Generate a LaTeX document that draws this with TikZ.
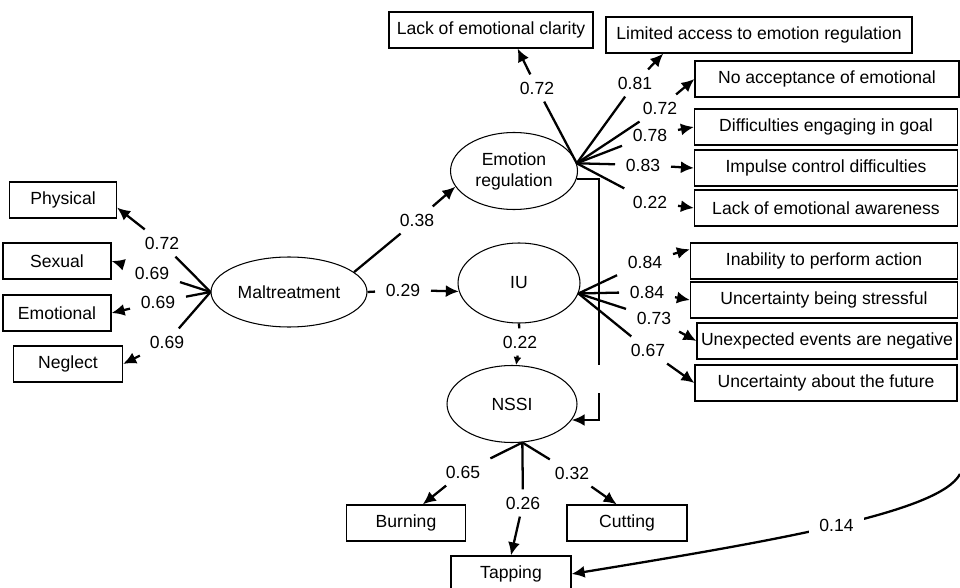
\documentclass[tikz,border=0pt]{standalone}
\usepackage{fontspec}
\setmainfont{Liberation Sans}
\usepackage{tikz}
\usetikzlibrary{shapes.geometric, arrows.meta}

\begin{document}
\begin{tikzpicture}[
    x=0.02cm, y=-0.02cm,
    ind/.style={rectangle, draw, line width=0.7pt, minimum height=0.72cm, inner sep=0pt},
    latent/.style={ellipse, draw, line width=0.6pt, inner sep=0pt, align=center},
    coef/.style={inner xsep=6pt, inner ysep=4pt},
    gapfill/.style={fill=white, minimum height=0.56cm, minimum width=0.15cm, inner sep=0pt},
    link/.style={line width=1.3pt},
    arrow/.style={-{Latex[length=2.6mm, width=2.4mm]}, line width=1.3pt}
]
    \useasboundingbox (0,0) rectangle (960,588);

    \node[latent, minimum width=3.12cm, minimum height=1.4cm] (mal) at (289,292) {Maltreatment};
    \node[latent, minimum width=2.54cm, minimum height=1.54cm] (er) at (514,171) {Emotion\\regulation};
    \node[latent, minimum width=2.44cm, minimum height=1.6cm] (iu) at (519,283) {IU};
    \node[latent, minimum width=2.6cm, minimum height=1.54cm] (nssi) at (512,404) {NSSI};

    \node[ind, minimum width=2.14cm] (phy) at (63,200) {Physical};
    \node[ind, minimum width=2.16cm] (sex) at (57,261) {Sexual};
    \node[ind, minimum width=2.16cm] (emo) at (57,313) {Emotional};
    \node[ind, minimum width=2.18cm] (negl) at (68,364) {Neglect};

    \node[ind, minimum width=4.08cm] (clar) at (491,30) {Lack of emotional clarity};
    \node[ind, minimum width=6.12cm] (lim) at (759,35) {Limited access to emotion regulation};
    \node[ind, minimum width=5.28cm] (noacc) at (827,79) {No acceptance of emotional};
    \node[ind, minimum width=5.26cm] (diff) at (826,127) {Difficulties engaging in goal};
    \node[ind, minimum width=5.26cm] (imp) at (826,168) {Impulse control difficulties};
    \node[ind, minimum width=5.26cm] (aware) at (826,208) {Lack of emotional awareness};

    \node[ind, minimum width=5.34cm] (inab) at (824,261) {Inability to perform action};
    \node[ind, minimum width=5.34cm] (stress) at (824,300) {Uncertainty being stressful};
    \node[ind, minimum width=5.2cm] (unexp) at (827,341) {Unexpected events are negative};
    \node[ind, minimum width=5.24cm] (future) at (826,383) {Uncertainty about the future};

    \node[ind, minimum width=2.38cm] (burn) at (406,523) {Burning};
    \node[ind, minimum width=2.4cm] (cut) at (627,523) {Cutting};
    \node[ind, minimum width=2.4cm] (tap) at (511,574) {Tapping};

    \node[coef] (wphy) at (162,243) {0.72};
    \node[coef] (wsex) at (152,273) {0.69};
    \node[coef] (wemo) at (158,302) {0.69};
    \node[coef] (wnegl) at (167,342) {0.69};
    \node[coef] (wer) at (417,220) {0.38};
    \node[coef] (wiu) at (403,290) {0.29};
    \node[coef] (wnssi) at (520,342) {0.22};

    \node[coef] (wclar) at (537,88) {0.72};
    \node[coef] (wlim) at (635,83) {0.81};
    \node[coef] (wnoacc) at (660,108) {0.72};
    \node[coef] (wdiff) at (650,135) {0.78};
    \node[coef] (wimp) at (643,165) {0.83};
    \node[coef] (waware) at (650,202) {0.22};

    \node[coef] (winab) at (645,262) {0.84};
    \node[coef] (wstress) at (647,292) {0.84};
    \node[coef] (wunexp) at (654,318) {0.73};
    \node[coef] (wfuture) at (648,350) {0.67};

    \node[coef] (wburn) at (463,472) {0.65};
    \node[coef] (wtap) at (523,503) {0.26};
    \node[coef] (wcut) at (572,473) {0.32};

    \coordinate (offedge) at (960,474);

    \draw[link] (mal.west) -- (wphy);
    \draw[arrow] (wphy) -- (phy.-8);
    \draw[link] (mal.west) -- (wsex);
    \draw[arrow] (wsex) -- (sex.east);
    \draw[link] (mal.west) -- (wemo);
    \draw[arrow] (wemo) -- (emo.east);
    \draw[link] (mal.west) -- (wnegl);
    \draw[arrow] (wnegl) -- (negl.east);

    \draw[link] (mal.17) -- (wer);
    \draw[arrow] (wer) -- (er.195);
    \draw[link] (mal.east) -- (wiu);
    \draw[arrow] (wiu) -- (iu.188);
    \draw[link] (iu.south) -- (wnssi);
    \draw[-{Latex[length=1.6mm, width=1.6mm]}, line width=1.3pt] (wnssi) -- (nssi.84);
    \draw[arrow] (er.-7) -- ++(22,0) |- node[pos=0.415, gapfill] {} (nssi.-15);

    \draw[link] (er.7) -- (wclar);
    \draw[arrow] (wclar) -- (clar.-35);
    \draw[link] (er.7) -- (wlim);
    \draw[arrow] (wlim) -- (lim.191);
    \draw[link] (er.7) -- (wnoacc);
    \draw[arrow] (wnoacc) -- (noacc.west);
    \draw[link] (er.7) -- (wdiff);
    \draw[arrow] (wdiff) -- (diff.west);
    \draw[link] (er.7) -- (wimp);
    \draw[arrow] (wimp) -- (imp.west);
    \draw[link] (er.7) -- (waware);
    \draw[arrow] (waware) -- (aware.west);

    \draw[link] (iu.-10) -- (winab);
    \draw[arrow] (winab) -- (inab.175);
    \draw[link] (iu.-10) -- (wstress);
    \draw[arrow] (wstress) -- (stress.west);
    \draw[link] (iu.-10) -- (wunexp);
    \draw[arrow] (wunexp) -- (unexp.west);
    \draw[link] (iu.-10) -- (wfuture);
    \draw[arrow] (wfuture) -- (future.west);

    \draw[link] (nssi.-75) -- (wburn);
    \draw[arrow] (wburn) -- (burn.48);
    \draw[link] (nssi.-75) -- (wtap);
    \draw[arrow] (wtap) -- (tap.north);
    \draw[link] (nssi.-75) -- (wcut);
    \draw[arrow] (wcut) -- (cut.119);

    \draw[arrow] (offedge) .. controls (940,512) and (780,540) .. node[midway, coef, fill=white] {0.14} (tap.east);
\end{tikzpicture}
\end{document}
